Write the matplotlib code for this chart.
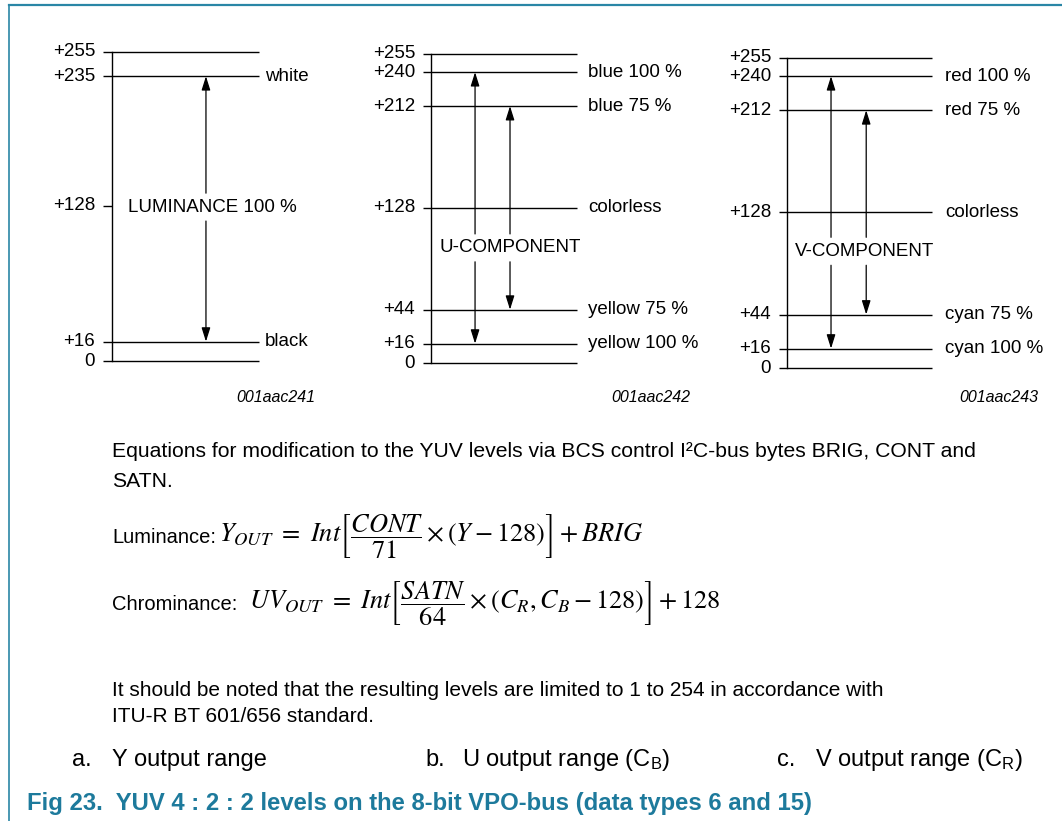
import matplotlib
matplotlib.use("Agg")
import matplotlib.pyplot as plt
from matplotlib.lines import Line2D

plt.rcParams['font.family'] = ['Liberation Sans', 'DejaVu Sans']
plt.rcParams['mathtext.fontset'] = 'custom'
plt.rcParams['mathtext.rm'] = 'Liberation Sans'
plt.rcParams['mathtext.it'] = 'Liberation Sans:italic'

# level data (8-bit codes)
y_levels = [0, 16, 128, 235, 255]
y_names = ['', 'black', '', 'white', '']
y_full = [True, True, False, True, True]
y_arrows = [(16, 235)]
y_mid = ('LUMINANCE 100 %', 127)

u_levels = [0, 16, 44, 128, 212, 240, 255]
u_names = ['', 'yellow 100 %', 'yellow 75 %', 'colorless', 'blue 75 %', 'blue 100 %', '']
u_full = [True] * 7
u_arrows = [(16, 240), (44, 212)]
u_mid = ('U-COMPONENT', 95)

v_levels = [0, 16, 44, 128, 212, 240, 255]
v_names = ['', 'cyan 100 %', 'cyan 75 %', 'colorless', 'red 75 %', 'red 100 %', '']
v_full = [True] * 7
v_arrows = [(16, 240), (44, 212)]
v_mid = ('V-COMPONENT', 96)

codes = ['001aac241', '001aac242', '001aac243']

W, H = 1062, 821
fig = plt.figure(figsize=(W / 100, H / 100), dpi=100)


def fx(px):
    return px / W


def fy(py):
    return 1 - py / H


# frame
teal = '#1d7a9c'
fig.add_artist(Line2D([fx(9), 1], [fy(5.5), fy(5.5)], color='#2a86a6', lw=1.6))
fig.add_artist(Line2D([fx(9), fx(9)], [fy(5.5), 0], color='#2a86a6', lw=1.2))


def panel(x0, x1, y0, y255, levels, names, full, arrows, axis_x, arrow_x,
          mid, mid_x, name_gap):
    ax = fig.add_axes([fx(x0), fy(y0), fx(x1) - fx(x0), fy(y255) - fy(y0)])
    ax.set_xlim(0, 1)
    ax.set_ylim(0, 255)
    ax.axis('off')
    wpx = x1 - x0
    for lv, nm, f in zip(levels, names, full):
        ax.plot([0, 1 if f else axis_x], [lv, lv], color='k', lw=1.0,
                solid_capstyle='butt', clip_on=False)
        ax.text(-8 / wpx, lv, '0' if lv == 0 else '+%d' % lv, ha='right',
                va='center', fontsize=13.5)
        if nm:
            ax.text(1 + name_gap / wpx, lv, nm, ha='left', va='center',
                    fontsize=13.5, clip_on=False)
    ax.plot([axis_x, axis_x], [levels[0], levels[-1]], color='k', lw=1.0,
            clip_on=False)
    ax.text(mid_x, mid[1], mid[0], ha='center', va='center', fontsize=13.5,
            clip_on=False)
    for (lo, hi), xa in zip(arrows, arrow_x):
        for start, end in [(mid[1] + 11.5, hi), (mid[1] - 11.5, lo)]:
            ax.annotate('', xy=(xa, end), xytext=(xa, start),
                        arrowprops=dict(arrowstyle='-|>,head_length=0.7,head_width=0.22',
                                        color='k', lw=0.9, shrinkA=0, shrinkB=0,
                                        mutation_scale=12))
    return ax


panel(103, 259, 361, 52, y_levels, y_names, y_full, y_arrows, 0.058, [0.66],
      y_mid, 0.70, 6)
panel(423, 577, 363, 54, u_levels, u_names, u_full, u_arrows, 0.052,
      [0.338, 0.565], u_mid, 0.565, 11)
panel(779, 932, 368, 58, v_levels, v_names, v_full, v_arrows, 0.052,
      [0.34, 0.57], v_mid, 0.556, 13)

for code, xr in zip(codes, [315, 690, 1038]):
    fig.text(fx(xr), fy(397), code, ha='right', va='center', fontsize=11.5,
             style='italic')

# equations block
fs = 15.2
fig.text(fx(112), fy(451), 'Equations for modification to the YUV levels via BCS control '
         'I\u00b2C-bus bytes BRIG, CONT and', ha='left', va='center', fontsize=fs)
fig.text(fx(112), fy(481), 'SATN.', ha='left', va='center', fontsize=fs)

lum = (r'$Y_{OUT}\ =\ Int\left[\dfrac{CONT}{\mathit{71}}\times(Y-\mathit{128})'
       r'\right]+BRIG$')
chrom = (r'$UV_{OUT}\ =\ Int\left[\dfrac{SATN}{\mathit{64}}\times'
         r'(C_R,C_B-\mathit{128})\right]+\mathit{128}$')
eq_fs = 19
fig.text(fx(112), fy(543), 'Luminance:', ha='left', va='baseline', fontsize=14.5)
fig.text(fx(219), fy(543), lum, ha='left', va='baseline', fontsize=eq_fs,
         math_fontfamily='stix')
fig.text(fx(112), fy(610), 'Chrominance:', ha='left', va='baseline', fontsize=14.5)
fig.text(fx(249), fy(610), chrom, ha='left', va='baseline', fontsize=eq_fs,
         math_fontfamily='stix')

fig.text(fx(112), fy(690), 'It should be noted that the resulting levels are limited to '
         '1 to 254 in accordance with', ha='left', va='center', fontsize=15)
fig.text(fx(112), fy(716), 'ITU-R BT 601/656 standard.', ha='left', va='center',
         fontsize=15)

# sub captions
sub_fs = 17
for lab, xl, xt, txt in [('a.', 72, 112, 'Y output range'),
                         ('b.', 425, 462, r'U output range (C$_\mathrm{B}$)'),
                         ('c.', 777, 815, r'V output range (C$_\mathrm{R}$)')]:
    fig.text(fx(xl), fy(760), lab, ha='left', va='center', fontsize=sub_fs)
    fig.text(fx(xt), fy(760), txt, ha='left', va='center', fontsize=sub_fs)

fig.text(fx(27), fy(803), 'Fig 23.  YUV 4 : 2 : 2 levels on the 8-bit VPO-bus '
         '(data types 6 and 15)', ha='left', va='center', fontsize=17.2,
         fontweight='bold', color=teal)

fig.savefig('out.png', dpi=100)
